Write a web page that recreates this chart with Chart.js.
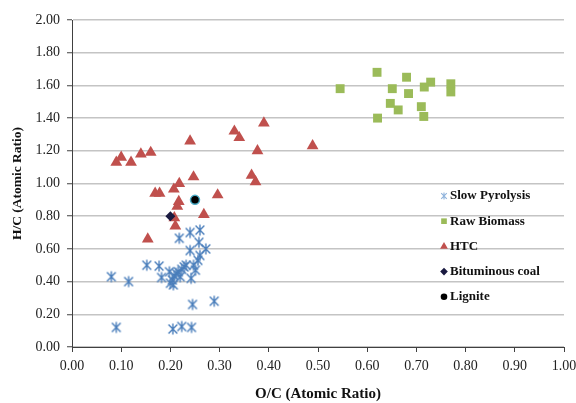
<!DOCTYPE html>
<html>
<head>
<meta charset="utf-8">
<script src="https://cdn.jsdelivr.net/npm/chart.js@4/dist/chart.umd.min.js"></script>
<style>
  html, body { margin: 0; padding: 0; background: #fff; }
  #wrap { width: 576px; height: 403px; }
</style>
</head>
<body>
<div id="wrap"><canvas id="c" width="576" height="403"></canvas></div>
<script>
// ---- data ----
const slowPyrolysisOC = [0.08, 0.115, 0.09, 0.152, 0.177, 0.182, 0.198, 0.204, 0.206, 0.208, 0.212, 0.216, 0.223, 0.228, 0.232, 0.242, 0.247, 0.251, 0.256, 0.26, 0.24, 0.272, 0.258, 0.218, 0.24, 0.26, 0.245, 0.289, 0.205, 0.223, 0.243, 0.22, 0.20];
const slowPyrolysisHC = [0.43, 0.40, 0.12, 0.50, 0.495, 0.425, 0.46, 0.41, 0.38, 0.435, 0.45, 0.46, 0.475, 0.49, 0.50, 0.42, 0.50, 0.47, 0.53, 0.56, 0.59, 0.60, 0.64, 0.665, 0.70, 0.715, 0.26, 0.28, 0.11, 0.125, 0.12, 0.43, 0.39];

const rawBiomassOC = [0.545, 0.62, 0.68, 0.729, 0.716, 0.651, 0.684, 0.77, 0.77, 0.647, 0.663, 0.71, 0.715, 0.621];
const rawBiomassHC = [1.58, 1.68, 1.65, 1.62, 1.59, 1.58, 1.55, 1.61, 1.56, 1.49, 1.45, 1.47, 1.41, 1.40];

const htcOC = [0.09, 0.10, 0.12, 0.14, 0.16, 0.24, 0.33, 0.34, 0.39, 0.377, 0.489, 0.365, 0.373, 0.247, 0.218, 0.207, 0.169, 0.178, 0.296, 0.217, 0.214, 0.268, 0.208, 0.210, 0.154];
const htcHC = [1.13, 1.16, 1.13, 1.18, 1.19, 1.26, 1.32, 1.28, 1.37, 1.20, 1.23, 1.05, 1.01, 1.04, 1.00, 0.965, 0.94, 0.94, 0.93, 0.89, 0.86, 0.81, 0.79, 0.74, 0.66];

const bituminousOC = [0.20];
const bituminousHC = [0.80];
const ligniteOC = [0.25];
const ligniteHC = [0.90];

const xTicks = [0, 0.1, 0.2, 0.3, 0.4, 0.5, 0.6, 0.7, 0.8, 0.9, 1.0];
const yTicks = [0, 0.2, 0.4, 0.6, 0.8, 1.0, 1.2, 1.4, 1.6, 1.8, 2.0];

const seriesNames = ['Slow Pyrolysis', 'Raw Biomass', 'HTC', 'Bituminous coal', 'Lignite'];

// ---- styling ----
const BLUE = '#4a7ebb';
const GREEN = '#9bbb59';
const RED = '#c0504d';
const NAVY = '#1a1a40';
const CYAN = '#4bacc6';
const SERIF = "'Liberation Serif', 'Times New Roman', serif";

function toPoints(xs, ys) {
  return xs.map((x, i) => ({ x: x, y: ys[i] }));
}

// Excel-like asterisk marker (x with a vertical bar)
function makeAsterisk(half, color, lw) {
  const s = Math.ceil(half * 2 + lw * 2);
  const cv = document.createElement('canvas');
  cv.width = s; cv.height = s;
  const g = cv.getContext('2d');
  const c = s / 2;
  const d = half * 0.8;
  g.strokeStyle = color;
  g.lineWidth = lw;
  g.beginPath();
  g.moveTo(c, c - half); g.lineTo(c, c + half);
  g.moveTo(c - d, c - d); g.lineTo(c + d, c + d);
  g.moveTo(c - d, c + d); g.lineTo(c + d, c - d);
  g.stroke();
  return cv;
}

const starBig = makeAsterisk(5.5, BLUE, 1.4);
const starSmall = makeAsterisk(3.5, '#8fb3dc', 1.1);

const datasets = [
  {
    label: seriesNames[0],
    data: toPoints(slowPyrolysisOC, slowPyrolysisHC),
    pointStyle: starBig,
    pointRadius: 6,
    borderColor: BLUE,
    backgroundColor: BLUE,
    order: 5
  },
  {
    label: seriesNames[1],
    data: toPoints(rawBiomassOC, rawBiomassHC),
    pointStyle: 'rect',
    pointRadius: 6.3,
    borderWidth: 0,
    borderColor: GREEN,
    backgroundColor: GREEN,
    order: 4
  },
  {
    label: seriesNames[2],
    data: toPoints(htcOC, htcHC),
    pointStyle: 'triangle',
    pointRadius: 6.8,
    borderWidth: 0,
    borderColor: RED,
    backgroundColor: RED,
    order: 3
  },
  {
    label: seriesNames[3],
    data: toPoints(bituminousOC, bituminousHC),
    pointStyle: 'rectRot',
    pointRadius: 5,
    borderWidth: 0,
    borderColor: NAVY,
    backgroundColor: NAVY,
    order: 2
  },
  {
    label: seriesNames[4],
    data: toPoints(ligniteOC, ligniteHC),
    pointStyle: 'circle',
    pointRadius: 4.5,
    borderWidth: 1.5,
    borderColor: CYAN,
    backgroundColor: '#000',
    order: 1
  }
];

// legend drawn inside the plot area, as in the original
const legendMarks = [
  { pointStyle: starSmall, radius: 3.5, fill: BLUE },
  { pointStyle: 'rect', radius: 4, fill: GREEN },
  { pointStyle: 'triangle', radius: 4.5, fill: RED },
  { pointStyle: 'rectRot', radius: 3.8, fill: NAVY },
  { pointStyle: 'circle', radius: 3.3, fill: '#000' }
];

const insideLegend = {
  id: 'insideLegend',
  afterDatasetsDraw(chart) {
    const ctx = chart.ctx;
    const x0 = 444, y0 = 196, step = 25.2;
    ctx.save();
    ctx.font = 'bold 13px ' + SERIF;
    ctx.textBaseline = 'middle';
    ctx.textAlign = 'left';
    seriesNames.forEach((name, i) => {
      const m = legendMarks[i];
      const y = y0 + i * step;
      ctx.fillStyle = m.fill;
      ctx.strokeStyle = m.fill;
      ctx.lineWidth = 0;
      Chart.helpers.drawPoint(ctx, { pointStyle: m.pointStyle, radius: m.radius, rotation: 0, borderWidth: 0 }, x0, y);
      ctx.fillStyle = '#111';
      ctx.fillText(name, x0 + 6, y);
    });
    ctx.restore();
  }
};

new Chart(document.getElementById('c'), {
  type: 'scatter',
  data: { datasets: datasets },
  options: {
    responsive: false,
    animation: false,
    events: [],
    layout: { padding: { top: 20, right: 12, left: 0, bottom: 0 } },
    plugins: {
      legend: { display: false },
      tooltip: { enabled: false }
    },
    scales: {
      x: {
        type: 'linear',
        min: 0,
        max: 1,
        afterBuildTicks(scale) { scale.ticks = xTicks.map(v => ({ value: v })); },
        afterFit(scale) {
          scale.height = 56;
          scale.paddingLeft = 0;
          scale.paddingRight = 0;
        },
        ticks: {
          color: '#222',
          font: { family: SERIF, size: 14 },
          padding: 6,
          maxRotation: 0,
          callback: v => Number(v).toFixed(2)
        },
        grid: {
          drawOnChartArea: false,
          drawTicks: true,
          tickLength: 5,
          tickColor: '#404040',
          tickWidth: 1
        },
        border: { display: true, color: '#404040', width: 1 },
        title: {
          display: true,
          text: 'O/C (Atomic Ratio)',
          color: '#111',
          font: { family: SERIF, size: 15, weight: 'bold' },
          padding: { top: 0, bottom: 0 }
        }
      },
      y: {
        type: 'linear',
        min: 0,
        max: 2,
        afterBuildTicks(scale) { scale.ticks = yTicks.map(v => ({ value: v })); },
        afterFit(scale) {
          scale.width = 72;
          scale.paddingTop = 0;
          scale.paddingBottom = 0;
        },
        ticks: {
          color: '#222',
          font: { family: SERIF, size: 14 },
          padding: 7,
          callback: v => Number(v).toFixed(2)
        },
        grid: {
          color: '#c4c4c4',
          lineWidth: 1.5,
          drawTicks: true,
          tickLength: 5,
          tickColor: '#404040',
          tickWidth: 1
        },
        border: { display: true, color: '#404040', width: 1 },
        title: {
          display: true,
          text: 'H/C (Atomic Ratio)',
          color: '#111',
          font: { family: SERIF, size: 13.5, weight: 'bold' },
          padding: { top: 9, bottom: 0 }
        }
      }
    }
  },
  plugins: [insideLegend]
});
</script>
</body>
</html>
